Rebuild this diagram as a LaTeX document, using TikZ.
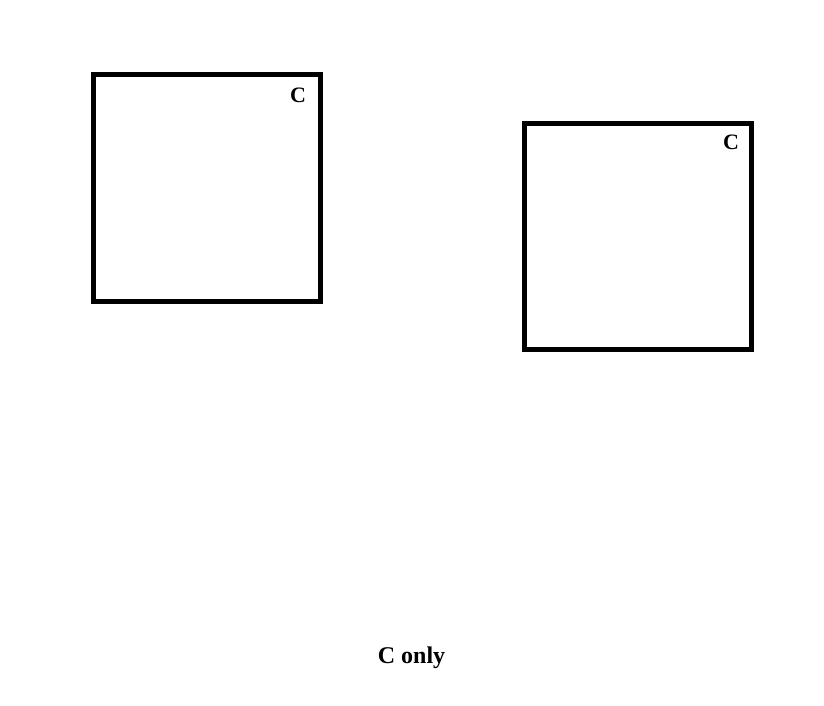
\documentclass[tikz,border=0pt]{standalone}
\usepackage{fontspec}
\setmainfont{Liberation Serif}
\begin{document}
\begin{tikzpicture}[x=1pt,y=-1pt,
  boxstyle/.style={draw=black,line width=5pt,minimum width=227pt,minimum height=226pt,inner sep=0pt},
  lbl/.style={font=\fontsize{22}{26}\selectfont\bfseries,inner sep=0pt}]
\useasboundingbox (0,0) rectangle (824,706);
\node[boxstyle] (b1) at (206.5,188) {};
\node[boxstyle] (b2) at (638,236.5) {};
\node[lbl] (c1) at (298,95.5) {C};
\node[lbl] (c2) at (731,142.5) {C};
\node[lbl,font=\fontsize{24}{28}\selectfont\bfseries] (t) at (411.5,657.5) {C only};
\end{tikzpicture}
\end{document}
